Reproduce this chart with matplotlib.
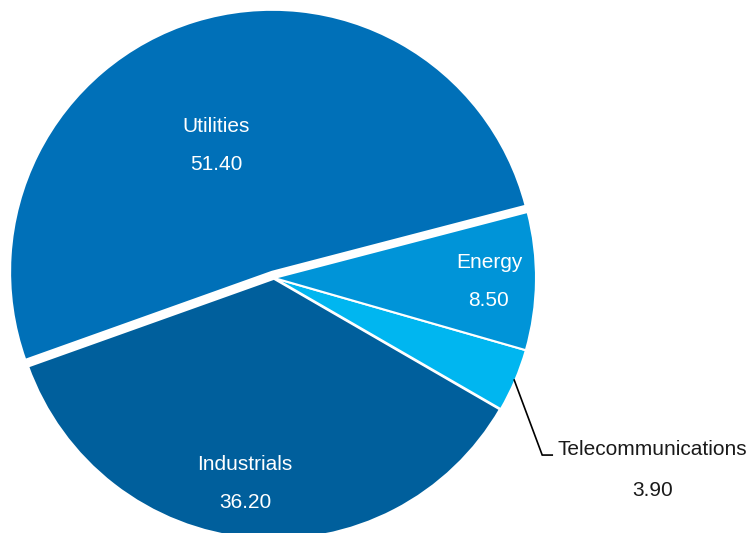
import numpy as np
import matplotlib
matplotlib.use("Agg")
import matplotlib.pyplot as plt

plt.rcParams['font.family'] = ['Liberation Sans', 'DejaVu Sans']

categories = ["Utilities", "Industrials", "Telecommunications", "Energy"]
values = [51.40, 36.20, 3.90, 8.50]
colors = ["#0070B8", "#005F9C", "#00B6F0", "#0094D8"]

W, H = 755, 533
fig = plt.figure(figsize=(W / 100, H / 100), dpi=100)
ax = fig.add_axes([0, 0, 1, 1])

R = 262
cx, cy = 274, 255
# explode is in data units (pixels here)
wedges, _ = ax.pie(values, colors=colors, startangle=14.6, counterclock=True,
                   radius=R, center=(cx, cy), explode=[6.5, 0, 0, 0],
                   wedgeprops=dict(edgecolor='white', linewidth=1.5),
                   frame=True)
wedges[1].set_linewidth(2.5)
ax.set_xlim(0, W)
ax.set_ylim(0, H)
ax.set_aspect('equal')
ax.axis('off')

fs = 15
def polar(ang, dist, c=(cx, cy)):
    a = np.deg2rad(ang)
    return c[0] + dist * np.cos(a), c[1] + dist * np.sin(a)

inside = {0: (114, 138), 1: (262, 208), 3: (-0.8, 215)}
for i, (ang, dist) in inside.items():
    w = wedges[i]
    x, y = polar(ang, dist, w.center)
    ax.text(x, y + 19, categories[i], color='white', fontsize=fs,
            ha='center', va='center')
    ax.text(x, y - 19, f"{values[i]:.2f}", color='white', fontsize=fs,
            ha='center', va='center')

# Telecommunications: outside label with leader line
w = wedges[2]
mid = (w.theta1 + w.theta2) / 2
p0 = polar(mid, R - 1)
p1 = (p0[0] + 28, p0[1] - 75)
p2 = (p1[0] + 10, p1[1])
ax.plot([p0[0], p1[0], p2[0]], [p0[1], p1[1], p2[1]], color='black', lw=1.2,
        solid_joinstyle='miter')
ax.text(p2[0] + 5, p2[1] + 6, categories[2], color='#1a1a1a', fontsize=fs,
        ha='left', va='center')
ax.text(653, p2[1] - 35, f"{values[2]:.2f}", color='#1a1a1a', fontsize=fs,
        ha='center', va='center')

fig.savefig("out.png", dpi=100)
